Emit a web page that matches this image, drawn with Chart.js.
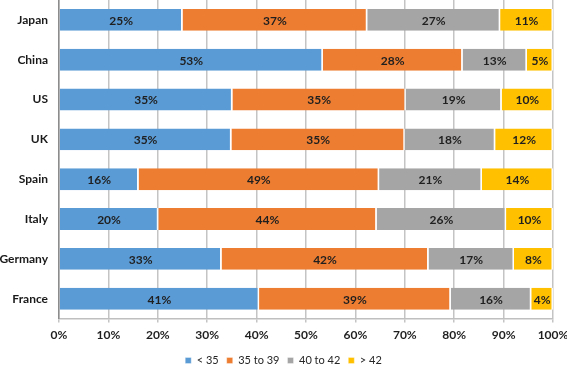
<!DOCTYPE html>
<html>
<head>
<meta charset="utf-8">
<script src="https://cdn.jsdelivr.net/npm/chart.js@4/dist/chart.umd.min.js"></script>
<style>
  html, body { margin: 0; padding: 0; background: #fff; }
  #wrap { width: 567px; height: 365px; position: relative; }
</style>
</head>
<body>
<div id="wrap"><canvas id="age-chart"></canvas></div>
<script>
"use strict";

const countries = ["Japan", "China", "US", "UK", "Spain", "Italy", "Germany", "France"];
const seriesNames = ["< 35", "35 to 39", "40 to 42", "> 42"];
const under35 = [25.0, 53.4, 35.1, 34.9, 16.1, 20.1, 32.9, 40.5];
const from35to39 = [37.4, 28.3, 35.1, 35.1, 48.7, 44.2, 41.9, 38.8];
const from40to42 = [26.9, 13.0, 19.4, 18.3, 20.8, 26.2, 17.3, 16.3];
const over42 = [10.7, 5.3, 10.4, 11.7, 14.4, 9.5, 7.9, 4.4];
const colors = ["#5B9BD5", "#ED7D31", "#A5A5A5", "#FFC000"];

const FONT = "Lato, 'Open Sans', sans-serif";

var ctx = document.getElementById("age-chart").getContext("2d");

// draws the rounded percentage in the middle of every segment
const barLabels = {
  id: "barLabels",
  afterDatasetsDraw(chart) {
    const c = chart.ctx;
    c.save();
    c.font = "bold 12px " + FONT;
    c.fillStyle = "#1f1f1f";
    c.textAlign = "center";
    c.textBaseline = "middle";
    chart.data.datasets.forEach((ds, i) => {
      const meta = chart.getDatasetMeta(i);
      meta.data.forEach((bar, j) => {
        const { x, base, y } = bar.getProps(["x", "base", "y"], true);
        c.fillText(Math.round(ds.data[j]) + "%", (x + base) / 2, y + 1);
      });
    });
    c.restore();
  },
};

const datasets = [under35, from35to39, from40to42, over42].map((data, i) => ({
  label: seriesNames[i],
  data: data,
  backgroundColor: colors[i],
  borderColor: "rgba(255,255,255,0.9)",
  borderWidth: { right: 1.5 },
  borderSkipped: false,
  barPercentage: 0.55,
  categoryPercentage: 1,
}));

new Chart(ctx, {
  type: "bar",
  data: { labels: countries, datasets: datasets },
  plugins: [barLabels],
  options: {
    indexAxis: "y",
    responsive: true,
    maintainAspectRatio: false,
    animation: false,
    layout: { padding: { top: 0, right: 0, bottom: -11, left: 0 } },
    scales: {
      x: {
        stacked: true,
        min: 0,
        max: 100,
        ticks: {
          stepSize: 10,
          callback: (v) => v + "%",
          font: { family: FONT, size: 12, weight: "bold" },
          color: "#1f1f1f",
          padding: 5,
        },
        grid: { color: "#c4c4c4", lineWidth: 1.5, tickLength: 4 },
        border: { color: "#bfbfbf", width: 1.5 },
        afterFit: (scale) => { scale.paddingRight = 14; },
      },
      y: {
        stacked: true,
        ticks: {
          font: { family: FONT, size: 12, weight: "bold" },
          color: "#1a1a1a",
          padding: 11,
        },
        grid: { display: false, drawTicks: false },
        border: { color: "#8c8c8c", width: 1.5 },
        afterFit: (scale) => {
          scale.width = 59;
          scale.paddingTop = 0;
          scale.paddingBottom = 0;
        },
      },
    },
    plugins: {
      legend: {
        position: "bottom",
        labels: {
          boxWidth: 6,
          boxHeight: 6,
          padding: 8,
          font: { family: FONT, size: 11 },
          color: "#262626",
        },
      },
      tooltip: { enabled: false },
    },
  },
});
</script>
</body>
</html>
